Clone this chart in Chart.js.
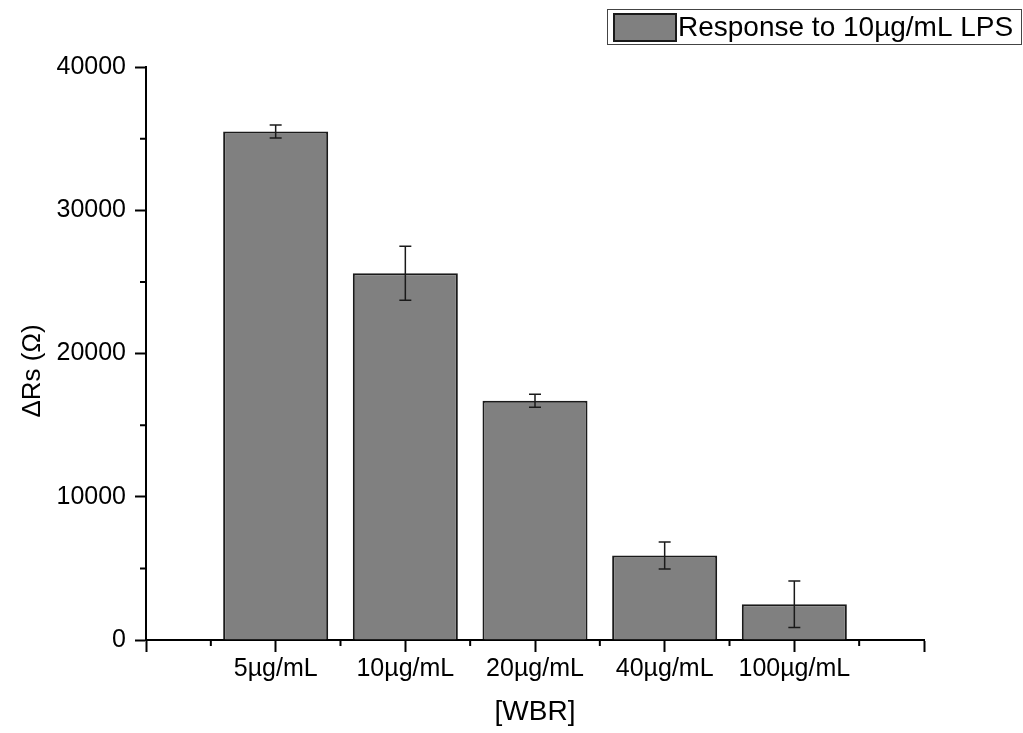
<!DOCTYPE html>
<html>
<head>
<meta charset="utf-8">
<script src="https://cdn.jsdelivr.net/npm/chart.js@4"></script>
<style>
  html, body { margin: 0; padding: 0; background: #fff; }
  #wrap { width: 1023px; height: 733px; }
</style>
</head>
<body>
<div id="wrap"><canvas id="chart"></canvas></div>
<script>
// --- Data ---
const categories = ['', '5µg/mL', '10µg/mL', '20µg/mL', '40µg/mL', '100µg/mL', ''];
const responses  = [null, 35500, 25600, 16700, 5900, 2500, null];
const errors     = [null, 450, 1880, 450, 940, 1620, null];
const yMin = 0, yMax = 40000, yStep = 10000;
const seriesLabel = 'Response to 10µg/mL LPS';
const xTitle = '[WBR]';
const yTitle = 'ΔRs (Ω)';

const FONT = 'Liberation Sans, Arial, sans-serif';
const BAR_FILL = '#808080';
const INK = '#1a1a1a';

// minor ticks halfway between major ticks, error bars, y title and the boxed legend
const extras = {
    id: 'extras',
    afterDraw(chart) {
        const ctx = chart.ctx;
        const x = chart.scales.x, y = chart.scales.y;
        ctx.save();
        ctx.strokeStyle = '#000';
        ctx.lineWidth = 2;

        // minor ticks
        ctx.beginPath();
        for (let i = 0; i < categories.length - 1; i++) {
            const px = x.getPixelForValue(i + 0.5);
            ctx.moveTo(px, y.bottom);
            ctx.lineTo(px, y.bottom + 6);
        }
        for (let v = yMin + yStep / 2; v < yMax; v += yStep) {
            const py = y.getPixelForValue(v);
            ctx.moveTo(x.left, py);
            ctx.lineTo(x.left - 6, py);
        }
        ctx.stroke();

        // error bars
        ctx.strokeStyle = INK;
        ctx.lineWidth = 1.5;
        const meta = chart.getDatasetMeta(0);
        meta.data.forEach((bar, i) => {
            if (responses[i] == null) return;
            const hi = y.getPixelForValue(responses[i] + errors[i]);
            const lo = y.getPixelForValue(responses[i] - errors[i]);
            ctx.beginPath();
            ctx.moveTo(bar.x, hi); ctx.lineTo(bar.x, lo);
            ctx.moveTo(bar.x - 6, hi); ctx.lineTo(bar.x + 6, hi);
            ctx.moveTo(bar.x - 6, lo); ctx.lineTo(bar.x + 6, lo);
            ctx.stroke();
        });

        // y axis title (sits a little below the chart-area centre in the original)
        ctx.fillStyle = '#000';
        ctx.font = '26px ' + FONT;
        ctx.textAlign = 'center';
        ctx.textBaseline = 'middle';
        ctx.translate(33, 371);
        ctx.rotate(-Math.PI / 2);
        ctx.fillText(yTitle, 0, 0);
        ctx.setTransform(1, 0, 0, 1, 0, 0);

        // legend
        ctx.lineWidth = 1;
        ctx.strokeStyle = '#444';
        ctx.strokeRect(607.5, 9.5, 414, 35);
        ctx.fillStyle = BAR_FILL;
        ctx.fillRect(614, 14, 62, 27);
        ctx.lineWidth = 2;
        ctx.strokeStyle = INK;
        ctx.strokeRect(614, 14, 62, 27);
        ctx.fillStyle = '#000';
        ctx.font = '28px ' + FONT;
        ctx.textAlign = 'left';
        ctx.fillText(chart.data.datasets[0].label, 678, 28);
        ctx.restore();
    }
};

new Chart(document.getElementById('chart'), {
    type: 'bar',
    data: {
        labels: categories,
        datasets: [{
            label: seriesLabel,
            data: responses,
            backgroundColor: BAR_FILL,
            borderColor: INK,
            borderWidth: 2,
            categoryPercentage: 0.81,
            barPercentage: 1
        }]
    },
    options: {
        responsive: true, maintainAspectRatio: false,
        animation: false,
        layout: { padding: { top: 67, right: 99, left: 0, bottom: 0 } },
        plugins: { legend: { display: false }, tooltip: { enabled: false } },
        scales: {
            x: {
                type: 'category',
                offset: false,
                grid: { offset: false, drawOnChartArea: false, tickLength: 12, tickColor: '#000', tickWidth: 2 },
                border: { color: '#000', width: 2 },
                ticks: { color: '#000', font: { family: FONT, size: 25 }, padding: 2, autoSkip: false, maxRotation: 0 },
                title: { display: true, text: xTitle, color: '#000', font: { family: FONT, size: 28 }, padding: { top: 0 } },
                afterFit: s => { s.height = 93; }
            },
            y: {
                min: yMin, max: yMax,
                grid: { drawOnChartArea: false, tickLength: 11, tickColor: '#000', tickWidth: 2 },
                border: { color: '#000', width: 2 },
                ticks: { stepSize: yStep, color: '#000', font: { family: FONT, size: 25 }, padding: 9,
                         callback: v => String(v) },
                title: { display: false },
                afterFit: s => { s.width = 146; }
            }
        }
    },
    plugins: [extras]
});
</script>
</body>
</html>
